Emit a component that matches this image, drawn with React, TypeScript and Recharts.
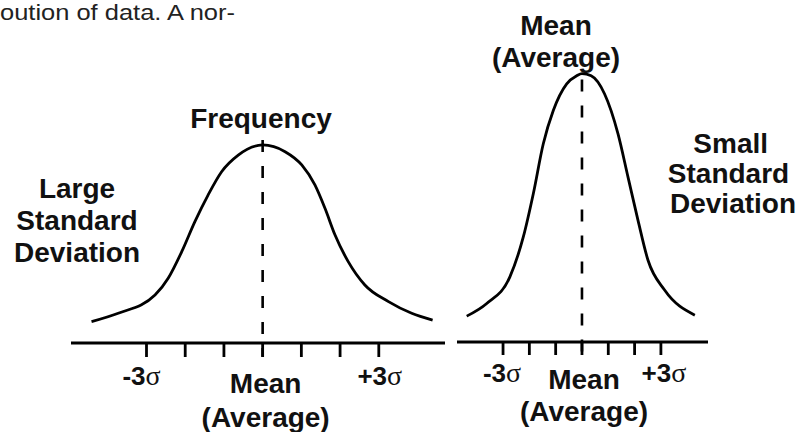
import React from 'react';
import { LineChart, Line, XAxis, YAxis, ReferenceLine } from 'recharts';

// ---- text content ----
const topText = 'oution of data. A nor-';
const leftTitle = 'Frequency';
const leftNote = ['Large', 'Standard', 'Deviation'];
const rightTitle = ['Mean', '(Average)'];
const rightNote = ['Small', 'Standard', 'Deviation'];

// ---- axis ticks (in standard deviations) ----
const sigmaTicks = [-3, -2, -1, 0, 1, 2, 3];
const sigmaTickLabels = ['-3σ', '', '', 'Mean', '', '', '+3σ'];
const meanSubLabel = '(Average)';

// ---- large standard deviation curve ----
const leftX = [-4.42, -3.73, -2.78, -2.44, -2.09, -1.75, -1.41, -1.06, -0.63, -0.11, 0, 0.58, 1.01, 1.35, 1.61, 1.87, 2.21, 2.64, 3.25, 3.85, 4.39];
const leftFreq = [10.8, 15.0, 24.2, 32.7, 46.1, 61.3, 74.7, 86.5, 94.9, 99.8, 100, 96.6, 89.9, 79.8, 68.0, 54.5, 41.1, 29.3, 20.9, 15.0, 11.6];

// ---- small standard deviation curve ----
const rightX = [-4.38, -3.62, -2.74, -2.23, -1.85, -1.47, -1.09, -0.58, -0.2, 0, 0.35, 0.86, 1.37, 1.75, 2.13, 2.51, 3.14, 4.29];
const rightFreq = [13.1, 19.5, 33.0, 53.2, 75.1, 100.4, 117.2, 130.7, 134.8, 135.9, 134.8, 125.6, 105.4, 83.5, 61.6, 41.4, 26.3, 13.6];

const leftData = leftX.map((x, i) => ({ x, f: leftFreq[i] }));
const rightData = rightX.map((x, i) => ({ x, f: rightFreq[i] }));

const FONT = '"Liberation Sans", Arial, Helvetica, sans-serif';
const SERIF = '"Liberation Serif", "Times New Roman", serif';
const INK = '#111';

type TickOpts = { sigmaDy: number; meanDy: number; avgDy: number; dx: number[] };

function makeTick(o: TickOpts) {
  return (props: any) => {
    const { x, y, payload } = props;
    const i = sigmaTicks.indexOf(payload.value);
    const label = sigmaTickLabels[i];
    if (!label) return <g />;
    const cx = x + o.dx[i];
    if (label.includes('σ')) {
      const parts = label.split('σ');
      return (
        <text x={cx} y={y + o.sigmaDy} textAnchor="middle" fontFamily={FONT} fontWeight={700} fontSize={26} fill={INK}>
          <tspan>{parts[0]}</tspan>
          <tspan fontFamily={SERIF} fontWeight={400} fontSize={28}>σ</tspan>
        </text>
      );
    }
    return (
      <g>
        <text x={cx} y={y + o.meanDy} textAnchor="middle" fontFamily={FONT} fontWeight={700} fontSize={28} fill={INK}>
          {label}
        </text>
        <text x={cx} y={y + o.avgDy} textAnchor="middle" fontFamily={FONT} fontWeight={700} fontSize={28} fill={INK}>
          {meanSubLabel}
        </text>
      </g>
    );
  };
}

const leftTick = makeTick({ sigmaDy: 28, meanDy: 36, avgDy: 70, dx: [-5, 0, 0, 3, 0, 0, 1] });
const rightTick = makeTick({ sigmaDy: 27, meanDy: 34, avgDy: 66, dx: [-1, 0, 0, 2, 0, 0, 3] });

const Y_MAX = 173.2;

export default function App() {
  return (
    <div style={{ position: 'absolute', left: 0, top: 0, width: 810, height: 432, background: '#fff', overflow: 'hidden' }}>
      <div style={{ position: 'absolute', left: 0, top: 0 }}>
        <LineChart width={445} height={432} data={leftData} margin={{ top: 0, right: 0, bottom: 0, left: 71 }}>
          <XAxis
            type="number"
            dataKey="x"
            domain={[-4.95, 4.71]}
            allowDataOverflow
            ticks={sigmaTicks}
            interval={0}
            tickSize={14}
            tickMargin={0}
            height={89}
            axisLine={{ stroke: '#000', strokeWidth: 2.8 }}
            tickLine={{ stroke: '#000', strokeWidth: 2.8 }}
            tick={leftTick}
          />
          <YAxis hide domain={[0, Y_MAX]} allowDataOverflow />
          <ReferenceLine
            segment={[{ x: 0, y: 102.5 }, { x: 0, y: -7 }]}
            stroke="#000"
            strokeWidth={2.6}
            strokeDasharray="12 14"
            ifOverflow="visible"
          />
          <Line type="monotone" dataKey="f" stroke="#000" strokeWidth={2.8} dot={false} isAnimationActive={false} />
          <text x={0} y={20} fontFamily={FONT} fontSize={22} fill="#222" textLength={235} lengthAdjust="spacingAndGlyphs">
            {topText}
          </text>
          <text x={261} y={128} textAnchor="middle" fontFamily={FONT} fontWeight={700} fontSize={28} fill={INK}>
            {leftTitle}
          </text>
          {leftNote.map((t, i) => (
            <text key={t} x={77} y={198 + i * 32} textAnchor="middle" fontFamily={FONT} fontWeight={700} fontSize={28} fill={INK}>
              {t}
            </text>
          ))}
        </LineChart>
      </div>
      <div style={{ position: 'absolute', left: 445, top: 0 }}>
        <LineChart width={365} height={432} data={rightData} margin={{ top: 0, right: 102, bottom: 0, left: 12 }}>
          <XAxis
            type="number"
            dataKey="x"
            domain={[-4.75, 4.79]}
            allowDataOverflow
            ticks={sigmaTicks}
            interval={0}
            tickSize={13}
            tickMargin={0}
            height={90}
            axisLine={{ stroke: '#000', strokeWidth: 2.8 }}
            tickLine={{ stroke: '#000', strokeWidth: 2.8 }}
            tick={rightTick}
          />
          <YAxis hide domain={[0, Y_MAX]} allowDataOverflow />
          <ReferenceLine
            segment={[{ x: 0, y: 133 }, { x: 0, y: -6.6 }]}
            stroke="#000"
            strokeWidth={2.6}
            strokeDasharray="12 14"
            ifOverflow="visible"
          />
          <Line type="monotone" dataKey="f" stroke="#000" strokeWidth={2.8} dot={false} isAnimationActive={false} />
          {rightTitle.map((t, i) => (
            <text key={t} x={111} y={35 + i * 31.7} textAnchor="middle" fontFamily={FONT} fontWeight={700} fontSize={28} fill={INK}>
              {t}
            </text>
          ))}
          {rightNote.map((t, i) => (
            <text key={t} x={[285.7, 283.5, 288][i]} y={153.3 + i * 30} textAnchor="middle" fontFamily={FONT} fontWeight={700} fontSize={28} fill={INK}>
              {t}
            </text>
          ))}
        </LineChart>
      </div>
    </div>
  );
}
